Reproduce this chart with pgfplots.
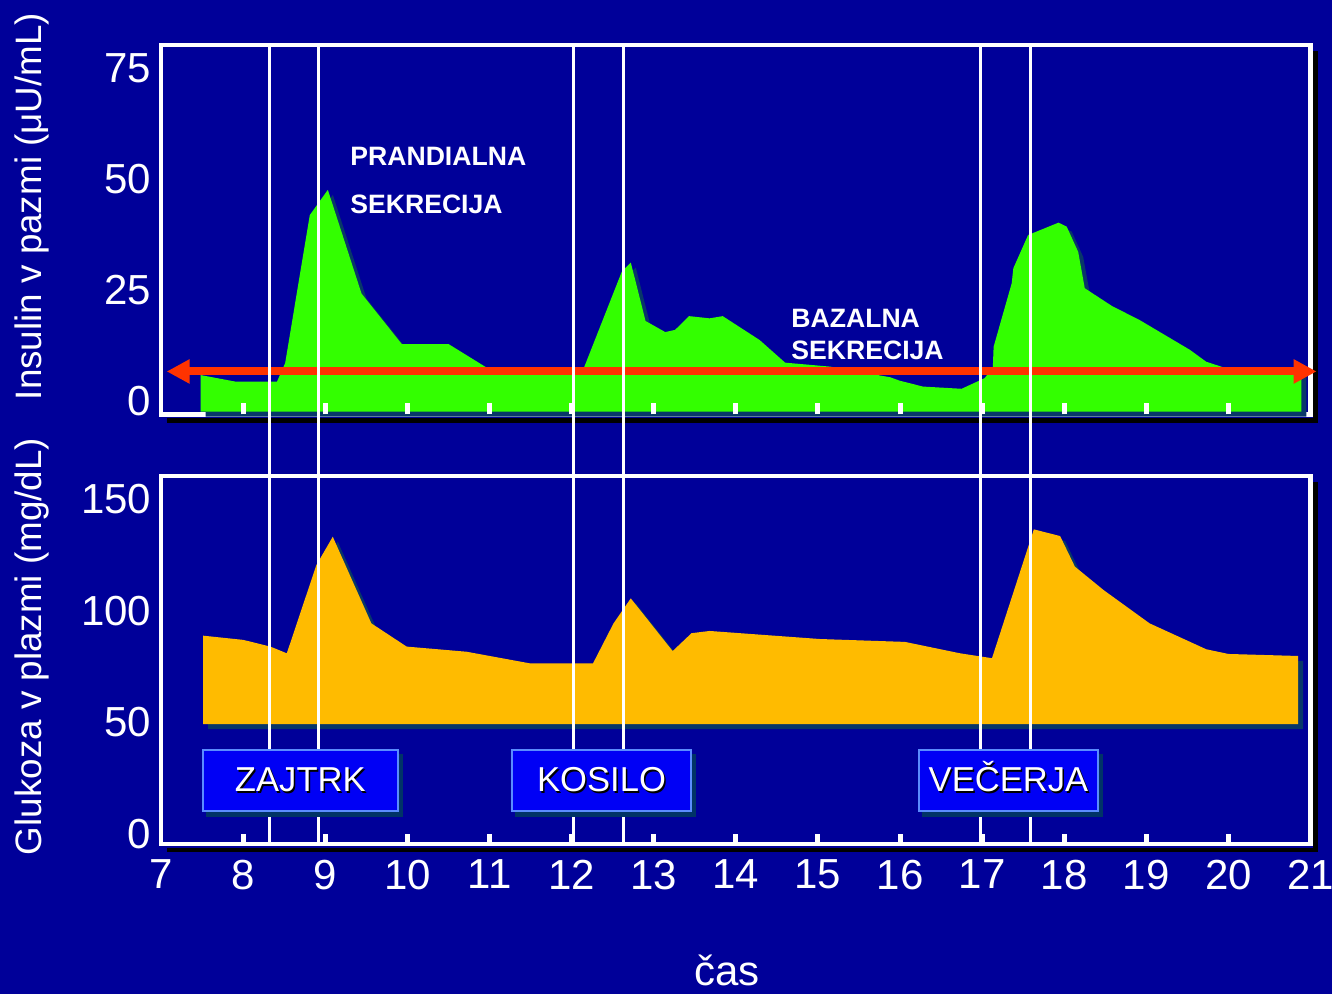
\documentclass[border=0pt]{standalone}
\usepackage{fontspec}
\setmainfont{Liberation Sans}
\usepackage{pgfplots}
\usepackage{pgfplotstable}
\pgfplotsset{compat=1.18}
\usetikzlibrary{arrows.meta}

\definecolor{bgblue}{RGB}{0,0,153}
\definecolor{insgreen}{RGB}{51,255,0}
\definecolor{glcorange}{RGB}{255,187,0}
\definecolor{arrowred}{RGB}{255,51,0}
\definecolor{shade}{RGB}{8,55,105}
\definecolor{boxblue}{RGB}{0,0,245}
\definecolor{boxedge}{RGB}{90,140,255}
\definecolor{boxshade}{RGB}{0,51,102}

% plasma insulin (uU/mL) over the day
\pgfplotstableread{
x      y
7.48  -2.46
7.48   5.8
7.91   4.3
8.41   4.3
8.51   8.5
8.81  41.9
9.03  47.6
9.44  24.2
9.93  12.8
10.50 12.8
10.98  7.3
12.14  7.0
12.61 29.1
12.72 31.2
12.90 18.0
13.14 15.5
13.26 16.0
13.43 19.1
13.68 18.6
13.84 19.1
14.29 13.7
14.60  8.6
15.15  7.7
15.88  5.3
16.00  4.5
16.28  3.2
16.75  2.7
17.03  5.1
17.13  7.4
17.14 12.2
17.36 26.5
17.38 29.9
17.56 37.4
17.93 40.2
18.03 39.3
18.17 33.6
18.25 25.4
18.58 21.4
18.92 18.2
19.53 11.5
19.73  8.8
19.98  7.3
20.89  6.9
20.89 -2.46
}\insulin

% plasma glucose (mg/dL) over the day
\pgfplotstableread{
x      y
7.51  49.25
7.51  88.9
8.00  87.0
8.33  84.0
8.53  81.0
8.89 120.5
9.09 133.2
9.56  94.4
9.99  84.0
10.72 81.7
11.49 76.5
12.26 76.5
12.51 94.4
12.72 105.6
13.23 82.0
13.46 90.0
13.68 91.0
15.02 87.4
16.06 86.1
16.73 81.0
17.12 78.8
17.63 136.5
17.95 133.5
18.13 119.8
18.48 109.3
19.04 94.4
19.73 82.8
20.00 80.7
20.85 79.8
20.85 49.25
}\glucose

\pgfplotsset{
  panel/.style={
    scale only axis, anchor=south west, width=574.65pt,
    xmin=7, xmax=21,
    axis line style={draw=white, line width=2.2pt, line cap=rect},
    major tick length=0pt,
    tick style={draw=none},
    ticklabel style={font=\fontsize{21}{25}\selectfont, text=white},
    /pgf/number format/assume math mode=true,
    clip=false,
  },
}
\tikzset{
  mealbox/.style={fill=boxblue, draw=boxedge, line width=1.1pt},
  mealtext/.style={anchor=base, inner sep=0pt, font=\fontsize{17.3}{20}\selectfont},
  note/.style={anchor=base west, inner sep=0pt, text=white, font=\bfseries\fontsize{13.3}{16}\selectfont},
}

\begin{document}
\begin{tikzpicture}
\path[use as bounding box, fill=bgblue] (0,0) rectangle (666pt,497pt);

% drop shadows of the two panel frames
\begin{scope}[x=0.5pt,y=0.5pt]
  \draw[black, line width=2.2pt] (1315.5,943) -- (1315.5,573.5) -- (167,573.5);
  \draw[black, line width=2.2pt] (1315.5,512) -- (1315.5,144) -- (167,144);
\end{scope}

% insulin panel
\begin{axis}[panel, at={(80.6pt,289.75pt)}, height=184.75pt,
  ymin=-3.1, ymax=80.3, ytick={0,25,50,75}, xtick=\empty,
  yticklabel shift=1.5pt]
  \addplot[fill=shade, draw=none, xshift=2.5pt, yshift=-2.5pt] table {\insulin};
  \addplot[fill=insgreen, draw=none] table {\insulin};
  \pgfplotsinvokeforeach{8,...,20}{
    \draw[white, line width=2.5pt] (axis cs:#1,-3.1) -- (axis cs:#1,-0.56);
  }
  \addplot[arrowred, line width=4pt,
    arrows={Triangle[length=11.5pt,width=11.5pt]-Triangle[length=11.5pt,width=11.5pt]}]
    coordinates {(7.067,6.61) (21.074,6.61)};
  \coordinate (t1) at (axis cs:8.325,80.3);
  \coordinate (t2) at (axis cs:8.914,80.3);
  \coordinate (t3) at (axis cs:12.02,80.3);
  \coordinate (t4) at (axis cs:12.63,80.3);
  \coordinate (t5) at (axis cs:16.98,80.3);
  \coordinate (t6) at (axis cs:17.59,80.3);
\end{axis}

% glucose panel
\begin{axis}[panel, at={(80.6pt,75pt)}, height=184pt,
  ymin=-4.4, ymax=160.4, ytick={0,50,100,150}, xtick={7,...,21},
  xticklabel shift=4.5pt, yticklabel shift=1.5pt]
  \addplot[fill=shade, draw=none, xshift=2.5pt, yshift=-2.5pt] table {\glucose};
  \addplot[fill=glcorange, draw=none] table {\glucose};
  \pgfplotsinvokeforeach{8,...,20}{
    \draw[white, line width=2.5pt] (axis cs:#1,-4.4) -- (axis cs:#1,0.1);
  }
  \coordinate (b1) at (axis cs:8.325,-4.4);
  \coordinate (b2) at (axis cs:8.914,-4.4);
  \coordinate (b3) at (axis cs:12.02,-4.4);
  \coordinate (b4) at (axis cs:12.63,-4.4);
  \coordinate (b5) at (axis cs:16.98,-4.4);
  \coordinate (b6) at (axis cs:17.59,-4.4);
\end{axis}

% meal start/end markers crossing both panels
\foreach \i in {1,...,6} {
  \draw[white, line width=1.5pt] (t\i) -- (b\i);
}

\begin{scope}[x=0.5pt,y=0.5pt]
  % meal boxes
  \fill[boxshade] (205.7,177) rectangle (403,240);
  \draw[mealbox] (202.8,183.1) rectangle (397.9,243.9);
  \fill[boxshade] (515,177) rectangle (696,240);
  \draw[mealbox] (512.1,183.1) rectangle (690.9,243.9);
  \fill[boxshade] (922,177) rectangle (1103,240);
  \draw[mealbox] (919.1,183.1) rectangle (1097.9,243.9);
  \foreach \cx/\lab in {300.35/ZAJTRK, 601.5/KOSILO, 1008.5/VEČERJA} {
    \node[mealtext, text=black] at (\cx+1.5,200.8) {\lab};
    \node[mealtext, text=white] at (\cx,202.3) {\lab};
  }

  % annotations
  \node[note] at (350,828.3) {PRANDIALNA};
  \node[note] at (350,780) {SEKRECIJA};
  \node[note] at (791,666.7) {BAZALNA};
  \node[note] at (791,634) {SEKRECIJA};

  % axis titles
  \node[rotate=90, anchor=base, inner sep=0pt, text=white,
        font=\fontsize{18.4}{22}\selectfont] at (41.7,787.5) {Insulin v pazmi (μU/mL)};
  \node[rotate=90, anchor=base, inner sep=0pt, text=white,
        font=\fontsize{18.4}{22}\selectfont] at (41.7,347.5) {Glukoza v plazmi (mg/dL)};
  \node[anchor=base, inner sep=0pt, text=white,
        font=\fontsize{21}{25}\selectfont] at (727,8) {čas};
\end{scope}
\end{tikzpicture}
\end{document}
